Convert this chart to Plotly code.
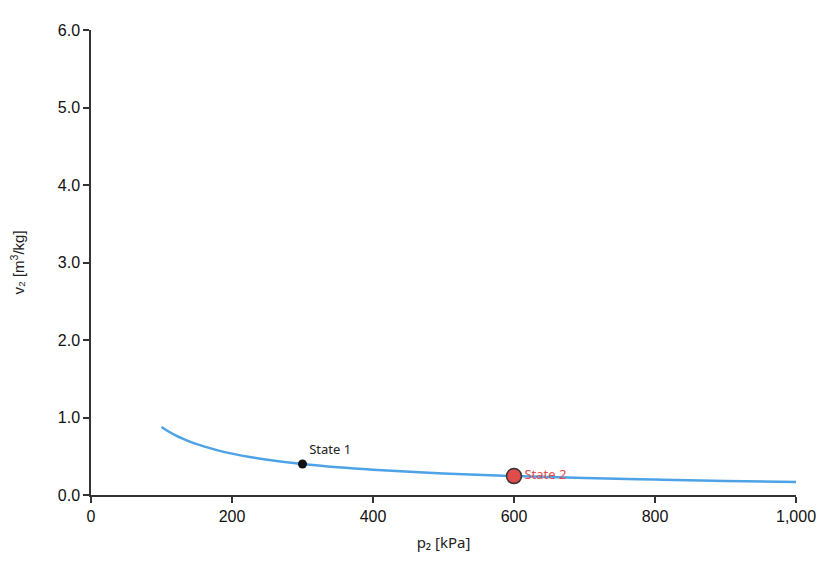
import plotly.graph_objects as go

# process curve p2 [kPa] vs v2 [m3/kg]
p_curve = [100, 110, 120, 130, 140, 150, 160, 180, 200, 225, 250, 300, 350, 400,
           500, 600, 700, 800, 900, 1000]
v_curve = [0.877, 0.819, 0.770, 0.727, 0.689, 0.656, 0.627, 0.576, 0.534, 0.491,
           0.456, 0.400, 0.358, 0.326, 0.278, 0.244, 0.218, 0.199, 0.182, 0.169]

state_names = ["State 1", "State 2"]
state_p = [300, 600]
state_v = [0.400, 0.244]

x_ticks = [0, 200, 400, 600, 800, 1000]
y_ticks = [0.0, 1.0, 2.0, 3.0, 4.0, 5.0, 6.0]

fig = go.Figure()

fig.add_trace(go.Scatter(
    x=p_curve, y=v_curve, mode="lines",
    line=dict(color="#4da3e6", width=2.5, shape="spline"),
    hoverinfo="skip", showlegend=False,
))

# state 1 - small black dot
fig.add_trace(go.Scatter(
    x=state_p[:1], y=state_v[:1], mode="markers+text",
    marker=dict(color="#111111", size=9),
    text=state_names[:1], textposition="top right",
    textfont=dict(family="Noto Sans, sans-serif", size=13, color="#222222"),
    showlegend=False,
))

# state 2 - red marker with dark outline
fig.add_trace(go.Scatter(
    x=state_p[1:], y=state_v[1:], mode="markers+text",
    marker=dict(color="#e04b4b", size=15, line=dict(color="#333333", width=1.5)),
    text=state_names[1:], textposition="middle right",
    textfont=dict(family="Noto Sans, sans-serif", size=13, color="#e04b4b"),
    showlegend=False,
))

axis_common = dict(
    showgrid=False, zeroline=False, showline=True, automargin=False,
    linecolor="#333333", linewidth=1.5,
    ticks="outside", ticklen=6, tickwidth=1.5, tickcolor="#333333",
    tickfont=dict(family="Liberation Sans, Arial, sans-serif", size=16, color="#111111"),
)

# page body has an 8px default margin, so margins are shifted to compensate
fig.update_layout(
    width=831, height=567,
    margin=dict(l=83, r=43, t=22, b=80),
    paper_bgcolor="white", plot_bgcolor="white",
    xaxis=dict(
        range=[0, 1000], tickvals=x_ticks, tickformat=",",
        title=dict(text="p₂ [kPa]", standoff=14,
                   font=dict(family="Noto Sans, sans-serif", size=15, color="#222222")),
        **axis_common,
    ),
    yaxis=dict(
        range=[0, 6], tickvals=y_ticks, tickformat=".1f",
        title=dict(text="v₂ [m<sup>3</sup>/kg]", standoff=30,
                   font=dict(family="Liberation Sans, Arial, sans-serif", size=15, color="#222222")),
        **axis_common,
    ),
)

fig.write_html("out.html")
